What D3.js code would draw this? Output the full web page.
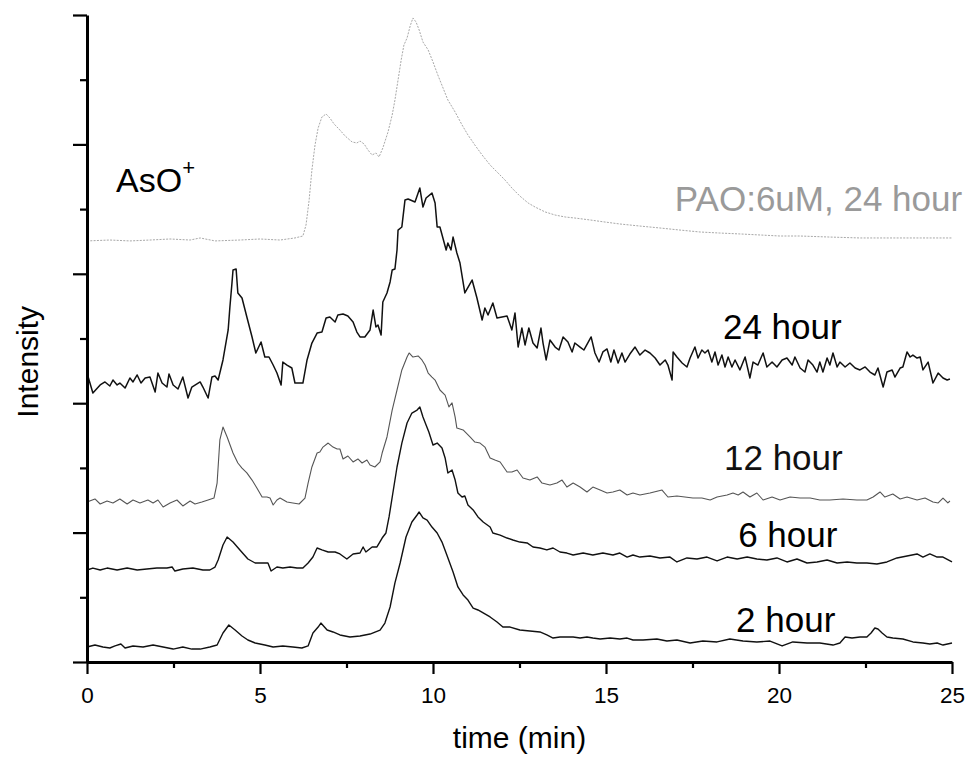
<!DOCTYPE html>
<html>
<head>
<meta charset="utf-8">
<script src="https://cdn.jsdelivr.net/npm/d3@7"></script>
<style>
  body { margin: 0; background: #fff; }
  text { font-family: "Liberation Sans", Arial, Helvetica, sans-serif; }
</style>
</head>
<body>
<svg id="chart" width="974" height="760"></svg>
<script>
// ---------- data (time in min, intensity in arbitrary units, traces offset as in the figure) ----------
const xTicks = [0, 5, 10, 15, 20, 25];
const xMinorTicks = [2.5, 7.5, 12.5, 17.5, 22.5];
const yTicks = [0, 10, 20, 30, 40, 50];
const yMinorTicks = [5, 15, 25, 35, 45];

const seriesNames = ["PAO:6uM, 24 hour", "24 hour", "12 hour", "6 hour", "2 hour"];

const pao24h = [[0,32.54],[0.66,32.61],[1.24,32.54],[1.82,32.61],[2.40,32.69],[2.98,32.61],[3.27,32.77],[3.70,32.54],[4.42,32.61],[5.00,32.69],[5.58,32.61],[6.01,32.77],[6.24,32.92],[6.33,33.77],[6.42,35.70],[6.50,38.02],[6.59,39.95],[6.68,41.27],[6.79,42.12],[6.91,42.35],[7.02,42.04],[7.14,41.58],[7.31,41.11],[7.46,40.65],[7.66,40.19],[7.80,40.11],[7.89,40.26],[8.01,40.03],[8.12,39.57],[8.24,39.18],[8.35,39.34],[8.44,39.03],[8.55,39.72],[8.70,40.96],[8.82,42.27],[8.90,43.43],[8.99,44.98],[9.08,46.52],[9.16,47.68],[9.25,48.22],[9.34,49.15],[9.42,49.77],[9.51,49.46],[9.60,48.84],[9.71,47.91],[9.86,47.30],[10.00,46.37],[10.14,45.36],[10.29,44.36],[10.43,43.43],[10.64,42.50],[10.84,41.50],[11.01,40.73],[11.21,39.95],[11.42,39.18],[11.65,38.41],[11.85,37.87],[12.08,37.25],[12.28,36.63],[12.51,36.01],[12.75,35.47],[12.95,35.16],[13.24,34.78],[13.53,34.54],[13.82,34.39],[14.10,34.31],[14.54,34.16],[14.97,34.00],[15.40,33.85],[15.98,33.69],[16.56,33.54],[17.14,33.38],[17.72,33.23],[18.29,33.15],[18.87,33.08],[19.45,33.00],[20.03,32.92],[20.61,32.92],[21.47,32.84],[22.34,32.77],[23.21,32.77],[24.08,32.77],[25,32.77]];

const h24 = [[0,22.33],[0.17,20.79],[0.38,21.41],[0.52,21.64],[0.66,21.33],[0.75,21.79],[0.87,21.41],[0.95,21.56],[1.10,21.17],[1.24,21.95],[1.33,21.64],[1.45,22.18],[1.56,21.56],[1.68,21.95],[1.82,22.02],[1.97,20.87],[2.05,22.33],[2.17,21.56],[2.31,21.25],[2.37,22.26],[2.49,21.41],[2.63,21.10],[2.77,22.02],[2.92,20.40],[3.03,21.25],[3.27,21.64],[3.35,21.25],[3.50,20.40],[3.61,22.02],[3.70,22.10],[3.79,21.79],[3.93,23.34],[4.08,25.66],[4.13,27.43],[4.19,29.29],[4.22,30.29],[4.31,30.37],[4.36,28.52],[4.48,28.13],[4.62,26.66],[4.77,25.12],[4.88,23.88],[5.03,24.73],[5.14,23.57],[5.26,23.57],[5.38,22.95],[5.49,22.33],[5.61,21.41],[5.66,23.18],[5.78,22.95],[5.92,22.72],[6.01,21.56],[6.24,21.56],[6.36,23.34],[6.50,24.65],[6.65,25.42],[6.79,25.50],[6.91,26.58],[7.02,26.66],[7.17,26.28],[7.25,26.82],[7.40,26.89],[7.54,26.74],[7.69,26.28],[7.80,25.50],[7.89,25.12],[8.03,25.12],[8.18,25.66],[8.27,27.20],[8.35,25.89],[8.41,26.04],[8.50,25.27],[8.55,27.82],[8.67,28.52],[8.76,29.37],[8.82,30.29],[8.90,30.37],[8.96,31.84],[8.99,33.38],[9.10,33.62],[9.19,35.70],[9.28,35.78],[9.48,35.55],[9.62,36.63],[9.71,35.16],[9.80,35.86],[9.97,36.24],[10.06,35.47],[10.12,33.62],[10.20,33.62],[10.38,31.84],[10.43,32.38],[10.52,31.84],[10.58,32.84],[10.69,31.61],[10.78,30.83],[10.92,28.52],[11.13,29.52],[11.27,28.13],[11.42,26.43],[11.50,27.36],[11.59,26.82],[11.73,27.74],[11.85,26.58],[12.14,26.74],[12.28,25.66],[12.37,26.97],[12.46,24.34],[12.57,25.81],[12.66,24.50],[12.77,25.81],[12.89,24.65],[13.01,24.27],[13.12,25.81],[13.18,24.65],[13.27,23.34],[13.38,24.88],[13.53,24.34],[13.64,24.11],[13.76,25.12],[13.90,24.73],[14.02,23.96],[14.10,24.65],[14.25,24.34],[14.36,24.11],[14.57,25.12],[14.68,23.88],[14.80,23.18],[14.91,23.96],[15.03,24.19],[15.14,23.18],[15.23,24.11],[15.35,23.11],[15.46,23.88],[15.55,23.18],[15.69,23.80],[15.84,24.34],[15.98,23.72],[16.13,24.11],[16.27,23.88],[16.42,23.49],[16.56,22.95],[16.71,23.34],[16.79,22.95],[16.91,21.79],[16.94,23.96],[17.05,23.57],[17.20,23.11],[17.34,22.80],[17.43,23.49],[17.57,24.34],[17.66,23.49],[17.77,24.11],[17.86,23.88],[17.95,24.11],[18.06,23.18],[18.15,23.96],[18.24,22.95],[18.35,23.72],[18.44,22.80],[18.53,23.57],[18.64,22.80],[18.73,23.34],[18.87,22.57],[19.02,23.57],[19.16,21.95],[19.25,23.18],[19.39,22.95],[19.54,23.88],[19.65,22.80],[19.80,23.18],[19.94,22.80],[20.09,23.34],[20.23,23.49],[20.38,22.95],[20.46,23.57],[20.61,22.72],[20.75,22.41],[20.84,23.34],[20.98,22.95],[21.10,22.41],[21.18,23.18],[21.27,22.41],[21.39,23.49],[21.47,22.95],[21.56,23.88],[21.68,22.80],[21.76,23.18],[21.91,22.80],[22.05,23.11],[22.20,22.72],[22.34,22.57],[22.49,22.80],[22.63,22.41],[22.77,22.18],[22.86,22.72],[23.01,21.25],[23.12,22.41],[23.27,22.57],[23.35,22.02],[23.50,22.72],[23.58,22.80],[23.70,23.96],[23.79,23.57],[23.87,23.72],[23.99,23.49],[24.08,23.57],[24.16,22.57],[24.31,23.18],[24.45,21.56],[24.60,22.33],[24.74,21.95],[24.86,21.79],[24.94,21.87]];

const h12 = [[0,12.36],[0.23,12.60],[0.38,12.21],[0.58,12.44],[0.75,12.29],[0.95,12.60],[1.16,12.21],[1.33,12.52],[1.53,12.29],[1.76,12.52],[1.91,12.29],[2.05,12.52],[2.20,11.98],[2.40,12.29],[2.60,12.52],[2.77,12.06],[2.98,12.44],[3.12,12.21],[3.32,12.36],[3.50,12.52],[3.67,12.67],[3.76,13.83],[3.84,17.16],[3.93,18.16],[4.05,17.39],[4.22,16.15],[4.36,15.38],[4.48,14.99],[4.62,14.61],[4.77,14.06],[4.91,13.45],[5.06,12.75],[5.20,12.75],[5.29,12.67],[5.38,12.13],[5.49,12.52],[5.58,12.67],[5.78,12.36],[5.95,12.29],[6.13,12.21],[6.30,12.67],[6.39,13.83],[6.50,15.07],[6.65,16.15],[6.73,16.23],[6.82,16.61],[6.97,16.92],[7.11,16.61],[7.23,16.46],[7.31,16.46],[7.40,15.69],[7.54,15.92],[7.69,15.46],[7.83,15.69],[7.95,15.38],[8.09,15.61],[8.18,15.22],[8.32,15.07],[8.47,15.46],[8.53,16.15],[8.67,17.39],[8.82,19.47],[8.96,21.02],[9.10,22.57],[9.25,23.57],[9.31,23.88],[9.42,23.57],[9.57,23.65],[9.68,23.34],[9.77,22.95],[9.86,22.33],[9.97,22.02],[10.06,21.79],[10.20,21.02],[10.35,20.63],[10.46,19.71],[10.55,20.02],[10.64,18.93],[10.69,18.08],[10.87,17.93],[11.07,17.39],[11.21,17.00],[11.36,16.92],[11.50,16.61],[11.65,15.77],[11.79,15.61],[11.94,15.46],[12.14,14.68],[12.28,14.68],[12.43,14.84],[12.60,14.22],[12.80,14.06],[13.01,14.30],[13.15,13.83],[13.38,13.68],[13.58,13.83],[13.73,14.06],[13.87,13.52],[14.05,13.83],[14.25,13.52],[14.45,13.14],[14.62,13.52],[14.83,13.29],[15.03,13.06],[15.20,13.14],[15.40,13.29],[15.61,12.91],[15.78,13.06],[15.98,12.91],[16.27,13.06],[16.62,13.29],[16.79,12.75],[17.05,12.83],[17.28,12.75],[17.51,12.67],[17.77,12.67],[18.01,12.52],[18.21,12.75],[18.50,12.91],[18.67,13.06],[18.82,12.91],[18.96,13.14],[19.16,12.75],[19.36,13.06],[19.54,12.52],[19.80,12.75],[20.03,12.52],[20.32,12.75],[20.61,12.67],[20.90,12.67],[21.18,12.52],[21.47,12.52],[21.85,12.60],[22.25,12.52],[22.54,12.52],[22.72,12.75],[22.92,13.14],[23.06,12.75],[23.29,12.98],[23.50,12.60],[23.70,12.75],[23.99,12.52],[24.22,12.67],[24.45,12.36],[24.60,12.29],[24.74,12.67],[24.88,12.29],[24.94,12.44]];

const h6 = [[0,7.11],[0.17,7.26],[0.38,7.11],[0.58,7.26],[0.87,7.11],[1.16,7.26],[1.45,7.11],[1.73,7.19],[2.02,7.26],[2.31,7.26],[2.46,7.34],[2.54,7.03],[2.77,7.19],[3.06,7.26],[3.35,7.11],[3.55,7.11],[3.70,7.34],[3.79,7.88],[3.93,9.04],[4.05,9.66],[4.22,9.27],[4.42,8.66],[4.65,7.96],[4.86,7.65],[5.06,7.65],[5.23,7.65],[5.32,7.03],[5.49,7.34],[5.66,7.26],[5.87,7.34],[6.07,7.26],[6.24,7.26],[6.39,7.65],[6.53,8.11],[6.65,8.81],[6.79,8.66],[6.97,8.50],[7.17,8.50],[7.31,8.35],[7.51,7.96],[7.69,8.35],[7.89,8.42],[7.98,8.89],[8.06,8.50],[8.24,8.89],[8.38,8.89],[8.53,9.58],[8.64,9.97],[8.73,11.21],[8.84,13.06],[8.96,15.07],[9.10,16.92],[9.25,18.47],[9.39,19.24],[9.54,19.47],[9.62,19.71],[9.71,18.93],[9.80,18.32],[9.88,17.77],[10.00,16.77],[10.12,16.92],[10.26,16.54],[10.35,15.77],[10.43,14.61],[10.55,14.84],[10.64,14.06],[10.72,13.06],[10.84,12.75],[10.92,12.83],[11.01,12.13],[11.16,11.75],[11.30,11.21],[11.45,10.82],[11.65,10.43],[11.73,9.97],[11.94,9.81],[12.14,9.58],[12.31,9.43],[12.51,9.27],[12.72,9.20],[12.89,8.89],[13.09,8.81],[13.29,8.66],[13.47,8.81],[13.67,8.50],[13.87,8.42],[14.05,8.27],[14.34,8.42],[14.62,8.27],[14.91,8.42],[15.20,8.27],[15.40,8.42],[15.61,8.11],[15.78,8.27],[15.98,8.11],[16.27,8.19],[16.56,8.04],[16.85,8.11],[17.05,7.73],[17.34,8.04],[17.63,7.96],[17.92,8.11],[18.21,7.81],[18.50,8.11],[18.79,7.96],[19.08,8.11],[19.36,7.96],[19.65,7.88],[19.94,8.04],[20.23,7.73],[20.52,7.96],[20.81,7.65],[21.10,7.73],[21.39,7.88],[21.68,7.65],[21.97,7.73],[22.25,7.65],[22.54,7.65],[22.83,7.57],[23.12,7.73],[23.41,8.04],[23.70,8.19],[23.99,8.35],[24.16,8.11],[24.36,8.35],[24.57,8.11],[24.74,8.11],[25,7.73]];

const h2 = [[0,1.16],[0.23,1.31],[0.46,1.16],[0.66,1.08],[0.81,1.24],[0.98,1.39],[1.10,1.08],[1.33,1.24],[1.62,1.16],[1.91,1.31],[2.20,1.16],[2.49,1.00],[2.77,1.16],[3.03,1.00],[3.27,1.00],[3.55,1.16],[3.76,1.31],[3.93,2.24],[4.10,2.86],[4.28,2.47],[4.48,2.01],[4.65,1.70],[4.86,1.47],[5.14,1.31],[5.38,1.16],[5.66,1.24],[5.95,1.16],[6.21,1.08],[6.39,1.24],[6.53,2.24],[6.68,2.70],[6.76,3.01],[6.94,2.47],[7.11,2.32],[7.31,2.09],[7.60,1.93],[7.89,2.01],[8.18,2.16],[8.47,2.47],[8.61,3.01],[8.76,4.25],[8.90,6.11],[9.05,7.65],[9.22,9.66],[9.39,10.82],[9.54,11.36],[9.60,11.59],[9.71,11.13],[9.83,10.97],[9.97,10.43],[10.12,9.97],[10.26,9.27],[10.40,8.27],[10.58,6.96],[10.72,5.80],[10.87,5.18],[11.01,4.79],[11.16,4.17],[11.30,4.02],[11.45,3.79],[11.65,3.48],[11.85,3.09],[12.02,2.70],[12.23,2.70],[12.51,2.47],[12.80,2.40],[13.09,2.32],[13.29,2.09],[13.47,1.85],[13.67,1.93],[13.87,1.93],[14.05,1.93],[14.25,1.85],[14.45,1.93],[14.62,1.85],[14.83,1.78],[15.12,1.85],[15.40,1.78],[15.61,1.85],[15.78,1.70],[16.07,1.70],[16.47,1.78],[16.76,1.62],[17.05,1.70],[17.43,1.47],[17.80,1.62],[18.21,1.55],[18.58,1.78],[18.96,1.62],[19.36,1.55],[19.74,1.62],[20.09,1.24],[20.40,1.55],[20.81,1.47],[21.18,1.47],[21.56,1.31],[21.76,1.47],[21.91,1.93],[22.11,1.85],[22.34,1.93],[22.54,1.93],[22.66,2.24],[22.77,2.63],[22.86,2.55],[22.98,2.24],[23.12,1.93],[23.29,1.85],[23.58,1.78],[23.87,1.55],[24.16,1.47],[24.36,1.39],[24.57,1.47],[24.74,1.31],[25,1.47]];

// ---------- chart ----------
const svg = d3.select("#chart");
const margin = { left: 87, right: 22, top: 15, bottom: 98 };
const W = 974, H = 760;

const x = d3.scaleLinear().domain([0, 25]).range([margin.left, W - margin.right]);
const y = d3.scaleLinear().domain([0, 50]).range([H - margin.bottom, margin.top]);

const traces = [
  { name: seriesNames[0], data: pao24h, color: "#a8a8a8", width: 1.0, dash: "2 1.3" },
  { name: seriesNames[1], data: h24, color: "#111", width: 1.5, dash: null },
  { name: seriesNames[2], data: h12, color: "#555", width: 1.1, dash: null },
  { name: seriesNames[3], data: h6, color: "#111", width: 1.4, dash: null },
  { name: seriesNames[4], data: h2, color: "#111", width: 1.4, dash: null }
];

const line = d3.line().x(d => x(d[0])).y(d => y(d[1]));

svg.append("g").selectAll("path")
  .data(traces)
  .join("path")
  .attr("d", d => line(d.data))
  .attr("fill", "none")
  .attr("stroke", d => d.color)
  .attr("stroke-width", d => d.width)
  .attr("stroke-dasharray", d => d.dash)
  .attr("stroke-linejoin", "round");

// axes
const axisY0 = y(0);
const gx = svg.append("g").attr("transform", `translate(0,${axisY0})`)
  .call(d3.axisBottom(x).tickValues(xTicks).tickSize(12).tickSizeOuter(0).tickFormat(d3.format("d")));
gx.select(".domain").attr("stroke-width", 3).attr("stroke", "#000");
gx.selectAll(".tick line").attr("stroke-width", 2.2).attr("stroke", "#000");
gx.selectAll(".tick text").attr("y", 41).attr("dy", 0)
  .style("font-size", "22.5px").attr("fill", "#000");

const gxm = svg.append("g").attr("transform", `translate(0,${axisY0})`)
  .call(d3.axisBottom(x).tickValues(xMinorTicks).tickSize(6).tickSizeOuter(0).tickFormat(""));
gxm.select(".domain").remove();
gxm.selectAll(".tick line").attr("stroke-width", 2.2).attr("stroke", "#000");

const gy = svg.append("g").attr("transform", `translate(${x(0)},0)`)
  .call(d3.axisLeft(y).tickValues(yTicks).tickSize(14).tickSizeOuter(0).tickFormat(""));
gy.select(".domain").attr("stroke-width", 3).attr("stroke", "#000");
gy.selectAll(".tick line").attr("stroke-width", 2.2).attr("stroke", "#000");

const gym = svg.append("g").attr("transform", `translate(${x(0)},0)`)
  .call(d3.axisLeft(y).tickValues(yMinorTicks).tickSize(7).tickSizeOuter(0).tickFormat(""));
gym.select(".domain").remove();
gym.selectAll(".tick line").attr("stroke-width", 2.2).attr("stroke", "#000");

// axis titles
svg.append("text")
  .attr("x", x(12.5)).attr("y", 748)
  .attr("text-anchor", "middle")
  .style("font-size", "30px")
  .text("time (min)");

svg.append("text")
  .attr("transform", `translate(38,${y(23.2)}) rotate(-90)`)
  .attr("text-anchor", "middle")
  .style("font-size", "30px")
  .text("Intensity");

// trace labels
const labels = [
  { text: seriesNames[0], t: 16.99, v: 34.85, color: "#9a9a9a" },
  { text: seriesNames[1], t: 18.38, v: 24.96, color: "#000" },
  { text: seriesNames[2], t: 18.41, v: 14.84, color: "#111" },
  { text: seriesNames[3], t: 18.82, v: 8.89, color: "#000" },
  { text: seriesNames[4], t: 18.76, v: 2.32, color: "#000" }
];
svg.append("g").selectAll("text")
  .data(labels)
  .join("text")
  .attr("x", d => x(d.t)).attr("y", d => y(d.v))
  .attr("fill", d => d.color)
  .style("font-size", "35px")
  .text(d => d.text);

const aso = svg.append("text")
  .attr("x", x(0.84)).attr("y", y(36.32))
  .style("font-size", "34px");
aso.append("tspan").text("AsO");
aso.append("tspan").attr("dy", -17).style("font-size", "22px").text("+");
</script>
</body>
</html>
